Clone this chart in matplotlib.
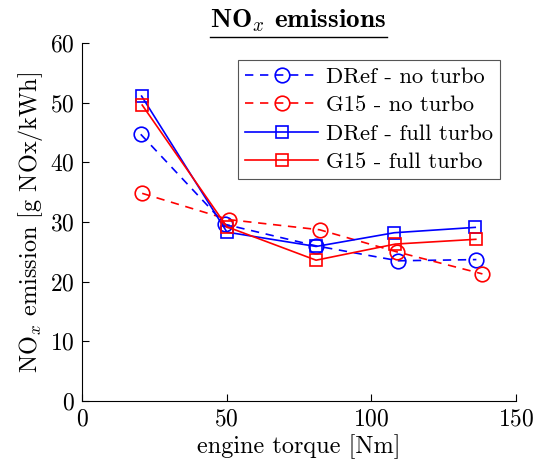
import matplotlib
matplotlib.use("Agg")
import matplotlib.pyplot as plt

plt.rcParams['font.family'] = ['cmr10']
plt.rcParams['mathtext.fontset'] = 'cm'
plt.rcParams['axes.formatter.use_mathtext'] = True

# engine torque [Nm] and NOx emission [g NOx/kWh]
torque_dref_no = [20.3, 49.5, 80.9, 109.3, 136.3]
nox_dref_no = [44.7, 29.6, 26.0, 23.5, 23.7]

torque_g15_no = [20.8, 50.7, 82.1, 108.8, 138.4]
nox_g15_no = [34.8, 30.4, 28.7, 25.0, 21.3]

torque_dref_full = [20.6, 50.1, 80.9, 107.9, 135.9]
nox_dref_full = [51.1, 28.3, 25.9, 28.2, 29.1]

torque_g15_full = [20.8, 50.1, 80.9, 108.3, 136.1]
nox_g15_full = [49.6, 29.2, 23.6, 26.3, 27.1]

labels = ['DRef - no turbo', 'G15 - no turbo', 'DRef - full turbo', 'G15 - full turbo']

fig = plt.figure(figsize=(5.36, 4.71), dpi=100)
ax = fig.add_axes([82/536, 1 - 401/471, (516 - 82)/536, (401 - 43)/471])

lw = 1.2
ax.plot(torque_dref_no, nox_dref_no, '--o', color='blue', lw=lw, ms=10.5,
        mfc='none', mew=lw, dashes=(5, 4), label=labels[0])
ax.plot(torque_g15_no, nox_g15_no, '--o', color='red', lw=lw, ms=10.5,
        mfc='none', mew=lw, dashes=(5, 4), label=labels[1])
ax.plot(torque_dref_full, nox_dref_full, '-s', color='blue', lw=lw, ms=9,
        mfc='none', mew=lw, label=labels[2])
ax.plot(torque_g15_full, nox_g15_full, '-s', color='red', lw=lw, ms=9,
        mfc='none', mew=lw, label=labels[3])

ax.set_xlim(0, 150)
ax.set_ylim(0, 60)
ax.set_xticks([0, 50, 100, 150])
ax.set_yticks([0, 10, 20, 30, 40, 50, 60])
ax.tick_params(direction='in', length=5, labelsize=17, width=0.8, pad=5)
for s in ['top', 'right']:
    ax.spines[s].set_visible(False)

ax.set_xlabel('engine torque [Nm]', fontsize=17.5, labelpad=3)
ax.set_ylabel(r'NO$_x$ emission [g NOx/kWh]', fontsize=17.5, labelpad=4)

leg = ax.legend(loc='upper right', bbox_to_anchor=(500/536, 1 - 60/471),
                bbox_transform=fig.transFigure, fontsize=16.3, frameon=True,
                fancybox=False, edgecolor='#555555', framealpha=1,
                handlelength=3.2, borderpad=0.32, labelspacing=0.37,
                handletextpad=0.35, borderaxespad=0)
leg.get_frame().set_linewidth(0.8)

title = fig.text(298.5/536, 1 - 27/471, r'NO$_x$ emissions', ha='center',
                 va='baseline', fontsize=19.5, family='cmb10')
fig.canvas.draw()
bb = title.get_window_extent().transformed(fig.transFigure.inverted())
fig.add_artist(plt.Line2D([bb.x0, bb.x1], [1 - 37/471, 1 - 37/471],
                          transform=fig.transFigure, color='black', lw=1.0))

fig.savefig('out.png', dpi=100)
